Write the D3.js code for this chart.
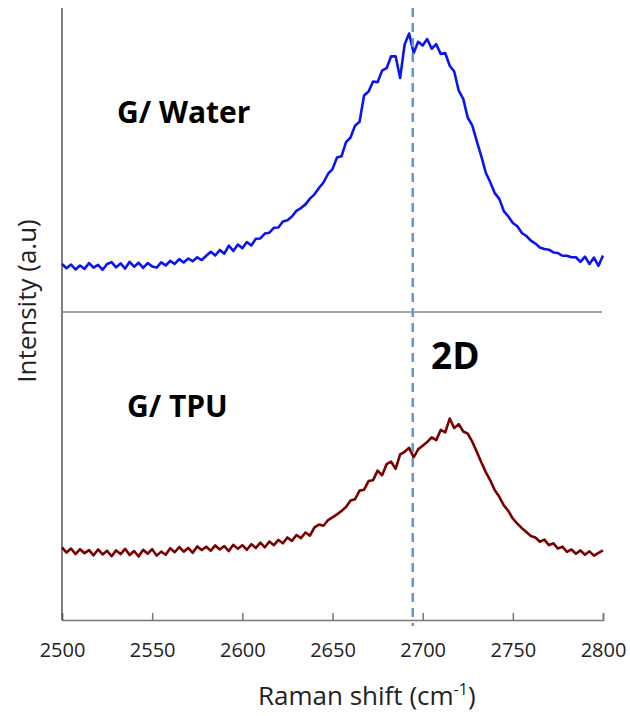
<!DOCTYPE html>
<html>
<head>
<meta charset="utf-8">
<script src="https://cdn.jsdelivr.net/npm/d3@7"></script>
<style>
  body { margin: 0; background: #fff; }
  text { font-family: "Open Sans", sans-serif; }
</style>
</head>
<body>
<svg id="chart" width="630" height="716"></svg>
<script>
// Raman shift grid (cm-1), one reading every 2.5 cm-1
var shifts = d3.range(2500, 2800.01, 2.5);

// G/ Water spectrum (a.u., top panel 0-100)
var water = [
  15.8, 14.4, 15.6, 14.0, 15.3, 14.2, 16.1, 14.6, 15.5, 13.9,
  15.8, 16.4, 14.7, 16.0, 14.3, 16.5, 14.9, 16.2, 14.5, 16.1,
  15.0, 14.6, 16.3, 15.3, 16.8, 15.8, 17.4, 16.3, 17.6, 16.7,
  18.0, 17.1, 18.5, 19.8, 18.6, 20.4, 19.2, 21.8, 20.1, 22.2,
  21.0, 23.0, 21.9, 24.1, 24.2, 25.8, 26.1, 27.7, 27.8, 29.8,
  30.2, 31.4, 33.3, 34.2, 35.4, 37.3, 38.7, 40.8, 42.6, 45.4,
  47.0, 50.8, 51.2, 55.9, 57.4, 61.3, 62.6, 71.2, 72.5, 75.8,
  75.6, 79.4, 80.2, 84.1, 84.1, 77.0, 88.0, 91.6, 85.2, 88.9,
  87.7, 89.8, 86.6, 88.1, 84.9, 85.2, 81.0, 79.1, 72.8, 70.1,
  63.9, 61.4, 56.2, 51.3, 45.8, 42.7, 39.1, 37.2, 33.2, 31.4,
  29.3, 28.2, 26.0, 25.0, 23.5, 22.5, 21.2, 20.7, 20.5, 19.6,
  19.4, 18.5, 18.5, 18.0, 18.0, 16.5, 18.2, 15.8, 17.9, 15.2,
  18.6
];

// G/ TPU spectrum (a.u., bottom panel 0-100)
var tpu = [
  23.6, 21.9, 23.2, 21.4, 23.0, 21.7, 22.7, 21.0, 22.9, 21.3,
  22.5, 20.7, 22.6, 21.4, 23.1, 21.1, 22.4, 20.6, 22.8, 21.5,
  23.0, 20.9, 22.2, 21.2, 23.3, 22.0, 23.7, 22.2, 23.4, 21.8,
  23.9, 22.7, 23.8, 22.5, 24.2, 22.9, 24.0, 22.4, 24.4, 23.1,
  24.3, 22.8, 24.6, 23.4, 25.1, 23.6, 25.5, 24.3, 26.0, 24.9,
  26.8, 25.7, 27.6, 26.6, 28.4, 27.4, 30.1, 31.0, 30.6, 32.4,
  33.3, 34.3, 35.4, 36.7, 38.8, 39.2, 42.0, 42.3, 45.1, 45.4,
  48.5, 47.0, 50.6, 51.4, 49.1, 53.8, 54.6, 55.9, 52.8, 55.4,
  56.6, 57.8, 59.3, 58.4, 61.7, 60.9, 65.4, 62.3, 63.6, 61.2,
  60.5, 57.9, 54.6, 51.2, 48.0, 45.3, 42.1, 40.0, 37.2, 35.4,
  32.9, 31.3, 29.8, 28.6, 27.3, 26.8, 25.4, 26.1, 24.3, 24.9,
  23.2, 23.8, 22.1, 22.9, 21.5, 22.6, 21.2, 22.3, 20.9, 21.8,
  22.6
];

var xTicks = [2500, 2550, 2600, 2650, 2700, 2750, 2800];
var peak2D = 2694.5;

var svg = d3.select("#chart");

var x = d3.scaleLinear().domain([2500, 2800]).range([62, 603]);
var yTop = d3.scaleLinear().domain([0, 100]).range([312, 8]);
var yBot = d3.scaleLinear().domain([0, 100]).range([620, 312]);

// x axis, ticks pointing up into the plot
var xAxis = svg.append("g")
  .attr("transform", "translate(0,620)")
  .call(d3.axisBottom(x).tickValues(xTicks).tickSize(-7).tickPadding(23).tickFormat(d3.format("d")));
xAxis.select(".domain").attr("stroke", "#777").attr("stroke-width", 1.5);
xAxis.selectAll(".tick line").attr("stroke", "#777").attr("stroke-width", 1.5);
xAxis.selectAll(".tick text")
  .attr("fill", "#222")
  .style("font-size", "20px")
  .style("font-family", "'Open Sans', sans-serif");

// y axis line (no ticks)
svg.append("line")
  .attr("x1", x(2500)).attr("x2", x(2500))
  .attr("y1", yTop(100)).attr("y2", yBot(0))
  .attr("stroke", "#555").attr("stroke-width", 1.5);

// panel separator
svg.append("line")
  .attr("x1", x(2500)).attr("x2", x(2800) - 1)
  .attr("y1", yTop(0)).attr("y2", yTop(0))
  .attr("stroke", "#888").attr("stroke-width", 1.5);

// spectra
var lineTop = d3.line().x(function(d, i) { return x(shifts[i]); }).y(function(d) { return yTop(d); });
var lineBot = d3.line().x(function(d, i) { return x(shifts[i]); }).y(function(d) { return yBot(d); });

svg.append("path").datum(water)
  .attr("fill", "none").attr("stroke", "#0a14f0").attr("stroke-width", 2.6)
  .attr("stroke-linejoin", "round")
  .attr("d", lineTop);

svg.append("path").datum(tpu)
  .attr("fill", "none").attr("stroke", "#7a0000").attr("stroke-width", 2.6)
  .attr("stroke-linejoin", "round")
  .attr("d", lineBot);

// dashed marker for the 2D position
svg.append("line")
  .attr("x1", x(peak2D)).attr("x2", x(peak2D))
  .attr("y1", 8).attr("y2", 626)
  .attr("stroke", "#5b9bd5").attr("stroke-width", 2.5)
  .attr("stroke-dasharray", "9,6");

// labels
svg.append("text").attr("x", 117).attr("y", 123)
  .style("font-size", "30px").style("font-weight", "bold").text("G/ Water");
svg.append("text").attr("x", 127).attr("y", 417)
  .style("font-size", "30px").style("font-weight", "bold").text("G/ TPU");
svg.append("text").attr("x", 431).attr("y", 369)
  .style("font-size", "37px").style("font-weight", "bold").text("2D");

// axis titles
var xt = svg.append("text")
  .attr("x", 258).attr("y", 705)
  .attr("fill", "#222")
  .style("font-size", "26px");
xt.append("tspan").text("Raman shift (cm");
xt.append("tspan").attr("dy", -10).style("font-size", "16px").text("-1");
xt.append("tspan").attr("dy", 10).text(")");

svg.append("text")
  .attr("transform", "translate(36,301) rotate(-90)")
  .attr("text-anchor", "middle")
  .attr("fill", "#222")
  .style("font-size", "26px")
  .text("Intensity (a.u)");
</script>
</body>
</html>
